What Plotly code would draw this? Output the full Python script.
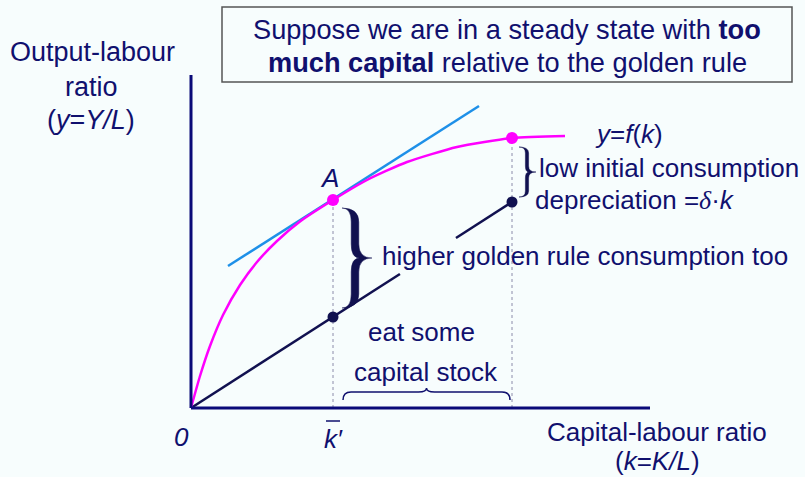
import numpy as np
import plotly.graph_objects as go

# ---------------- data (model units) ----------------
k_curve = [0.0, 0.9, 1.9, 3.2, 4.9, 6.6, 8.6, 10.9, 14.2, 17.6, 21.6, 26.6, 32.1, 37.4]
y_curve = [0.0, 3.2, 6.2, 9.3, 12.3, 14.6, 16.7, 18.65, 20.8, 22.8, 24.6, 26.1, 27.0, 27.2]

k_gold, y_gold = 14.2, 20.8      # point A (golden rule)
k_init, y_init = 32.1, 27.0      # initial steady state on f(k)

dep_k = [0.0, 14.2, 32.1]        # depreciation line delta*k
dep_y = [0.0, 9.1, 20.6]

tangent_k = [3.7, 28.8]          # tangent at A
tangent_y = [14.2, 30.2]

k_axis_max = 45.9
y_axis_max = 33.3

# ---------------- styling ----------------
BG = "#F7FDFD"
NAVY = "#10106E"
AXIS = "#0A0A78"
DEP = "#111150"
PINK = "#FF00FF"
BLUE = "#1E90E8"
GUIDE = "#8C8CAA"
FONT = "Liberation Sans, Arial, sans-serif"

W, H = 805, 477
X0PX, Y0PX, SCALE = 191, 408, 10.0


def px2x(p):
    return (p - X0PX) / SCALE


def py2y(p):
    return (Y0PX - p) / SCALE


fig = go.Figure()

# guides (dotted verticals)
fig.add_trace(go.Scatter(x=[k_gold, k_gold, None, k_init, k_init],
                         y=[0, y_gold, None, 0, y_init], mode="lines",
                         line=dict(color=GUIDE, width=1, dash="dot"),
                         hoverinfo="skip", showlegend=False))

# depreciation line, interrupted behind the label band
gap_lo, gap_hi = py2y(274), py2y(238)
k_lo = float(np.interp(gap_lo, dep_y, dep_k))
k_hi = float(np.interp(gap_hi, dep_y, dep_k))
fig.add_trace(go.Scatter(x=[dep_k[0], dep_k[1], k_lo, None, k_hi, dep_k[2]],
                         y=[dep_y[0], dep_y[1], gap_lo, None, gap_hi, dep_y[2]],
                         mode="lines", line=dict(color=DEP, width=2.5),
                         hoverinfo="skip", showlegend=False))

# tangent line
fig.add_trace(go.Scatter(x=tangent_k, y=tangent_y, mode="lines",
                         line=dict(color=BLUE, width=2.5),
                         hoverinfo="skip", showlegend=False))

# production function
fig.add_trace(go.Scatter(x=k_curve, y=y_curve, mode="lines",
                         line=dict(color=PINK, width=2.5, shape="spline", smoothing=0.6),
                         hoverinfo="skip", showlegend=False))

# dots
fig.add_trace(go.Scatter(x=[dep_k[1], dep_k[2]], y=[dep_y[1], dep_y[2]], mode="markers",
                         marker=dict(color=DEP, size=11),
                         hoverinfo="skip", showlegend=False))
fig.add_trace(go.Scatter(x=[k_gold, k_init], y=[y_gold, y_init], mode="markers",
                         marker=dict(color=PINK, size=12),
                         hoverinfo="skip", showlegend=False))

shapes = []
# axes
shapes.append(dict(type="line", x0=0, y0=0, x1=0, y1=y_axis_max,
                   line=dict(color=AXIS, width=3)))
shapes.append(dict(type="line", x0=0, y0=0, x1=k_axis_max, y1=0,
                   line=dict(color=AXIS, width=3)))
# title box
shapes.append(dict(type="rect", x0=px2x(222), x1=px2x(792), y0=py2y(82), y1=py2y(7),
                   line=dict(color="#555555", width=1.5), fillcolor="rgba(0,0,0,0)"))
# k-bar overline
shapes.append(dict(type="line", x0=k_gold - 0.7, x1=k_gold + 0.7,
                   y0=py2y(421), y1=py2y(421), line=dict(color=NAVY, width=1.5)))


def vbrace(x0, xm, xc, yt, yb, t, q):
    ym = (yt + yb) / 2
    xn = xm + 1.2 * t
    return (f"M {x0},{yt} Q {xm+t},{yt} {xm+t},{yt-q} L {xm+t},{ym+q} "
            f"Q {xm+t},{ym} {xc},{ym} "
            f"Q {xm+t},{ym} {xm+t},{ym-q} L {xm+t},{yb+q} Q {xm+t},{yb} {x0},{yb} "
            f"Q {xm-t},{yb} {xm-t},{yb+q} L {xm-t},{ym-q} Q {xm-t},{ym} {xn},{ym} "
            f"Q {xm-t},{ym} {xm-t},{ym+q} L {xm-t},{yt-q} Q {xm-t},{yt} {x0},{yt} Z")


# big brace between f(k') and delta*k'
shapes.append(dict(type="path",
                   path=vbrace(k_gold + 0.9, k_gold + 2.2, k_gold + 3.9,
                               y_gold - 0.8, dep_y[1] + 0.9, 0.38, 1.4),
                   fillcolor=DEP, line=dict(color=DEP, width=0.5)))
# small brace between f(k*) and delta*k*
shapes.append(dict(type="path",
                   path=vbrace(k_init + 0.7, k_init + 1.5, k_init + 2.4,
                               y_init - 0.9, dep_y[2] + 0.5, 0.16, 0.6),
                   fillcolor=DEP, line=dict(color=DEP, width=0.5)))

# horizontal brace under "capital stock"
xa, xb = k_gold + 1.0, k_init - 0.2
xmid = (xa + xb) / 2
ye, yb_, yt_ = 0.8, 1.6, 2.0
r = 0.8
hpath = (f"M {xa},{ye} Q {xa},{yb_} {xa+r},{yb_} L {xmid-r},{yb_} Q {xmid},{yb_} {xmid},{yt_} "
         f"Q {xmid},{yb_} {xmid+r},{yb_} L {xb-r},{yb_} Q {xb},{yb_} {xb},{ye}")
shapes.append(dict(type="path", path=hpath, line=dict(color=NAVY, width=1.5)))

fig.update_layout(shapes=shapes)


def ann(px, py, text, size=26, xanchor="center", **kw):
    fig.add_annotation(x=px2x(px), y=py2y(py), text=text, showarrow=False,
                       xanchor=xanchor, yanchor="middle",
                       font=dict(family=FONT, size=size, color=NAVY), **kw)


ann(507, 29, "Suppose we are in a steady state with <b>too</b>", size=27.2)
ann(507, 62, "<b>much capital</b> relative to the golden rule", size=27.2)

ann(92, 52, "Output-labour", size=27)
ann(91, 87, "ratio", size=27)
ann(91, 120, "(<i>y</i>=<i>Y/L</i>)", size=27)

ann(329, 178, "<i>A</i>")
ann(629, 134, "<i>y</i>=<i>f</i>(<i>k</i>)")
ann(537, 168, "low initial consumption", xanchor="left")
ann(533, 200, "depreciation =<i><span style='font-family:Liberation Serif'>δ</span></i>·<i>k</i>",
    xanchor="left")
ann(380, 256, "higher golden rule consumption too", xanchor="left")
ann(421, 332, "eat some")
ann(426, 372, "capital stock")

ann(181, 437, "<i>0</i>")
ann(333, 439, "<i>k′</i>")
ann(657, 432, "Capital-labour ratio")
ann(657, 461, "(<i>k</i>=<i>K/L</i>)")

fig.update_layout(
    width=W, height=H, autosize=False,
    margin=dict(l=0, r=0, t=0, b=0, pad=0),
    paper_bgcolor=BG, plot_bgcolor=BG,
    xaxis=dict(range=[px2x(0), px2x(W)], visible=False, fixedrange=True),
    yaxis=dict(range=[py2y(H), py2y(0)], visible=False, fixedrange=True),
    showlegend=False,
)

fig.write_html("out.html",
               config={"displayModeBar": False, "staticPlot": True},
               post_script="document.body.style.margin='0';"
                           "document.body.style.padding='0';"
                           "document.body.style.overflow='hidden';"
                           f"document.body.style.background='{BG}';")
